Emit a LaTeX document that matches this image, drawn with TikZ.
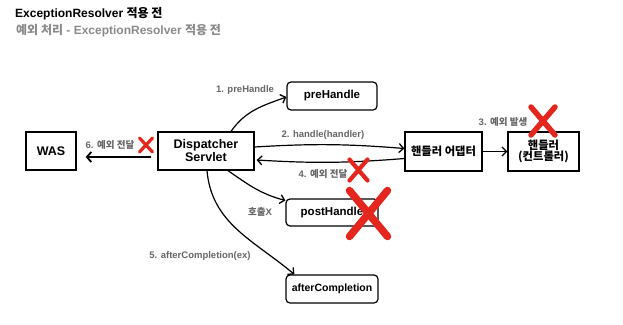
\documentclass[tikz,border=0pt]{standalone}
\usepackage{fontspec}
\setmainfont{Liberation Sans}
\newfontfamily\kr{Noto Sans CJK KR}
\usetikzlibrary{arrows.meta}
\definecolor{labelgray}{HTML}{666666}
\definecolor{subgray}{HTML}{8A8A8A}
\definecolor{xred}{HTML}{E5261F}
\tikzset{
  box/.style={draw=black, line width=1.2pt, fill=white, align=center,
    font=\bfseries\fontsize{12.5}{14}\selectfont, inner sep=0pt},
  rbox/.style={box, rounded corners=4pt},
  lbl/.style={text=labelgray, font=\bfseries\fontsize{9.5}{11}\selectfont, inner sep=0pt},
  flow/.style={draw=black, line width=1.2pt, -{Straight Barb[length=4.5pt,width=9pt,line width=1.3pt]}},
  xline/.style={draw=xred, line cap=round},
  redx/.pic={\draw[xline] (-0.5,-0.5) -- (0.5,0.5) (-0.5,0.5) -- (0.5,-0.5);}
}
\begin{document}
\begin{tikzpicture}[x=1pt,y=-1pt]
\useasboundingbox[fill=white] (0,0) rectangle (623,324);

% headings
\node[anchor=west, inner sep=0pt, font=\bfseries\fontsize{12}{14}\selectfont] (title) at (15,14)
  {ExceptionResolver {\kr 적용 전}};
\node[anchor=west, inner sep=0pt, text=subgray, font=\bfseries\fontsize{12}{14}\selectfont] (subtitle) at (16,31)
  {{\kr 예외 처리} - ExceptionResolver {\kr 적용 전}};

% boxes
\node[box, minimum width=50pt, minimum height=38pt] (was) at (51,151) {WAS};
\node[box, minimum width=96pt, minimum height=38pt] (ds) at (206,151) {Dispatcher\\[-1pt]Servlet};
\node[rbox, minimum width=90pt, minimum height=28pt, font=\bfseries\fontsize{11.5}{13}\selectfont] (pre) at (332,96) {preHandle};
\node[box, minimum width=77pt, minimum height=39pt, font=\bfseries\kr\fontsize{11.3}{13}\selectfont] (adapter) at (443.5,151.5) {핸들러 어댑터};
\node[box, minimum width=71pt, minimum height=39pt, font=\bfseries\kr\fontsize{11.3}{13}\selectfont] (ctrl) at (543.5,151.5) {핸들러\\[-2pt](컨트롤러)};
\node[rbox, minimum width=92pt, minimum height=27pt, font=\bfseries\fontsize{11.5}{13}\selectfont] (post) at (332,212.5) {postHandle};
\node[rbox, minimum width=92pt, minimum height=28pt, font=\bfseries\fontsize{10.5}{12}\selectfont] (after) at (332,289) {afterCompletion};

% connectors
\draw[flow] ([xshift=25pt]ds.north) to[out=55, in=200] ([yshift=-1pt]pre.west);
\draw[flow] ([yshift=4pt]ds.east) to[bend left=4] ([yshift=3pt]adapter.west);
\draw[flow] ([yshift=-7pt]adapter.west) to[bend left=4] ([yshift=-9pt,xshift=2pt]ds.east);
\draw[flow] (adapter.east) -- (ctrl.west);
\draw[flow] ([xshift=22pt]ds.south) to[out=-35, in=165] ([yshift=12pt]post.west);
\draw[flow] ([xshift=1pt]ds.south) to[out=-85, in=140] ([xshift=9pt]after.north west);
\draw[draw=black, line width=2.2pt, -{Straight Barb[length=4.5pt,width=10pt,line width=1.8pt]},
  shorten >=9pt, shorten <=6pt] ([yshift=-6pt]ds.west) -- ([yshift=-6pt]was.east);

% labels
\node[lbl] (l1) at (245,90) {1. preHandle};
\node[lbl] (l2) at (323,135) {2. handle(handler)};
\node[lbl] (l3) at (503,122) {3. {\kr 예외 발생}};
\node[lbl] (l4) at (323,174) {4. {\kr 예외 전달}};
\node[lbl] (l5) at (200,256) {5. afterCompletion(ex)};
\node[lbl] (l6) at (110,145) {6. {\kr 예외 전달}};
\node[lbl] (l7) at (260,212) {{\kr 호출}X};

% red crosses
\pic[xscale=13, yscale=14, line width=3.2pt] at (146,145) {redx};
\pic[xscale=18, yscale=21, line width=4.2pt] at (358.5,170) {redx};
\pic[xscale=24, yscale=28, line width=5.5pt] at (543,121) {redx};
\pic[xscale=38, yscale=46, line width=7.5pt] at (368.5,213.5) {redx};
\end{tikzpicture}
\end{document}
